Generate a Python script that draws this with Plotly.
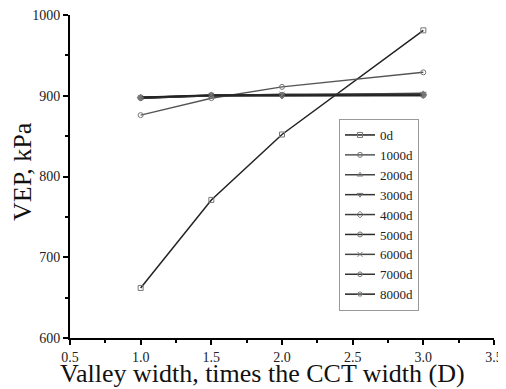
import plotly.graph_objects as go

x_width = [1.0, 1.5, 2.0, 3.0]
series_names = ["0d", "1000d", "2000d", "3000d", "4000d", "5000d", "6000d", "7000d", "8000d"]
v_0d = [662, 771, 852, 981]
v_1000d = [876, 897, 911, 929]
v_2000d = [898, 900, 901, 903]
v_3000d = [897, 900, 901, 902]
v_4000d = [898, 900, 900, 901]
v_5000d = [897, 901, 901, 901]
v_6000d = [898, 900, 902, 902]
v_7000d = [897, 900, 900, 900]
v_8000d = [898, 901, 901, 901]
values = [v_0d, v_1000d, v_2000d, v_3000d, v_4000d, v_5000d, v_6000d, v_7000d, v_8000d]

symbols = ["square-open", "circle-open", "triangle-up-open", "triangle-down-open",
           "diamond-open", "circle-open", "x-thin-open", "hexagon-open", "asterisk-open"]
line_colors = ["#222222", "#555555", "#444444", "#333333", "#3a3a3a",
               "#2a2a2a", "#444444", "#333333", "#222222"]

FONT = "Liberation Serif, Times New Roman, serif"

# page body has an 8px margin; figure is sized/offset to compensate
W, H = 498, 381
L, R, T, B = 62, 12, 7, 51
PW, PH = W - L - R, H - T - B

fig = go.Figure()
for name, vals, sym, col in zip(series_names, values, symbols, line_colors):
    fig.add_trace(go.Scatter(
        x=x_width, y=vals, name=name, mode="lines+markers",
        line=dict(color=col, width=1.5),
        marker=dict(symbol=sym, size=5, color="#777777", line=dict(width=1, color="#777777")),
    ))

fig.update_layout(
    width=W, height=H,
    margin=dict(l=L, r=R, t=T, b=B, autoexpand=False),
    paper_bgcolor="white", plot_bgcolor="white",
    font=dict(family=FONT, color="#222222", size=14),
    showlegend=True,
    legend=dict(
        x=(331 - L) / PW, y=(H - B - 111) / PH, xanchor="left", yanchor="top",
        bgcolor="white", bordercolor="#999999", borderwidth=1,
        font=dict(family=FONT, size=13, color="#222222"),
        tracegroupgap=0, itemwidth=30,
    ),
    xaxis=dict(
        range=[0.5, 3.5], dtick=0.5, tick0=0.5, tickformat=".1f",
        showline=True, linecolor="black", linewidth=2, automargin=False,
        ticks="outside", ticklen=5, tickwidth=1.5, tickcolor="black",
        showgrid=False, zeroline=False, ticklabeloverflow="allow",
        minor=dict(dtick=0.25, ticks="outside", ticklen=3, tickwidth=1.5, tickcolor="black", showgrid=False),
        tickfont=dict(family=FONT, size=14),
    ),
    yaxis=dict(
        range=[600, 1000], dtick=100, tick0=600,
        showline=True, linecolor="black", linewidth=2, automargin=False,
        ticks="outside", ticklen=5, tickwidth=1.5, tickcolor="black",
        showgrid=False, zeroline=False, ticklabeloverflow="allow",
        minor=dict(dtick=50, ticks="outside", ticklen=3, tickwidth=1.5, tickcolor="black", showgrid=False),
        tickfont=dict(family=FONT, size=14),
    ),
    annotations=[
        dict(text="Valley width, times the CCT width (D)", xref="paper", yref="paper",
             x=(254 - L) / PW, y=(H - B - 365) / PH, xanchor="center", yanchor="middle",
             showarrow=False, font=dict(family=FONT, size=26, color="#111111")),
        dict(text="VEP, kPa", xref="paper", yref="paper",
             x=(15 - L) / PW, y=(H - B - 164) / PH, xanchor="center", yanchor="middle",
             textangle=-90, showarrow=False, font=dict(family=FONT, size=26, color="#111111")),
    ],
)

fig.write_html("out.html")
